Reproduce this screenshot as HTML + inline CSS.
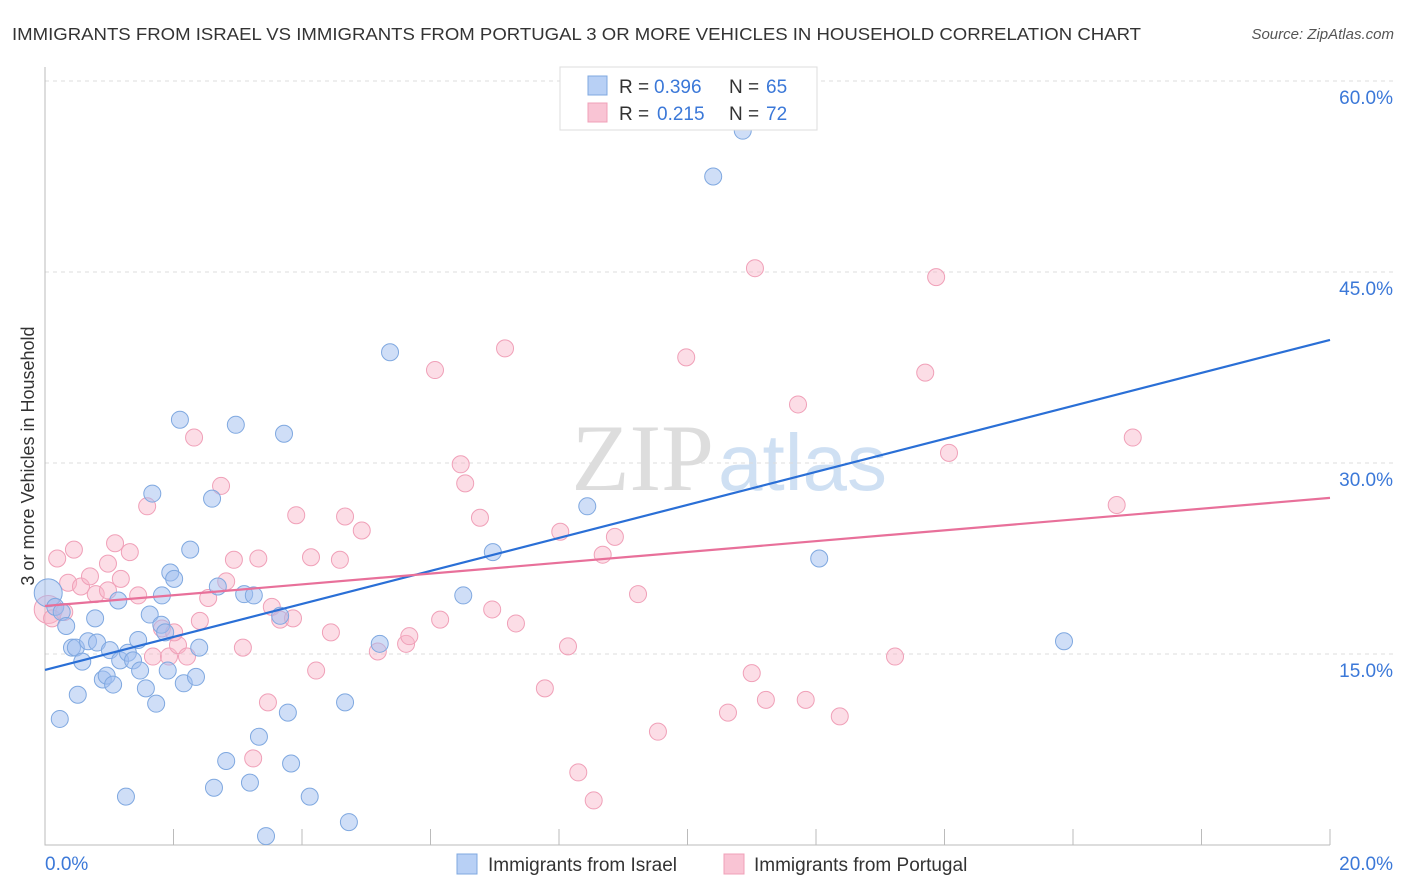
<!DOCTYPE html>
<html><head><meta charset="utf-8">
<style>
body{margin:0;background:#fff;font-family:"Liberation Sans",sans-serif;}
svg{display:block}
</style></head>
<body>
<svg id="chart" width="1406" height="892">
<text x="12" y="40" font-size="17.5" fill="#333" textLength="1129" lengthAdjust="spacingAndGlyphs">IMMIGRANTS FROM ISRAEL VS IMMIGRANTS FROM PORTUGAL 3 OR MORE VEHICLES IN HOUSEHOLD CORRELATION CHART</text>
<text x="1394" y="39" font-size="15" fill="#555" font-style="italic" text-anchor="end">Source: ZipAtlas.com</text>
<g>
<text x="714" y="490" font-size="95" fill="#ddd" text-anchor="end" font-family="Liberation Serif,serif">ZIP</text>
<text x="718" y="490" font-size="80" fill="#cfe0f3">atlas</text>
</g>
<g id="grid"></g><g id="axes"></g><g id="lines"></g><g id="pts"></g>
<g>
<rect x="560" y="67" width="257" height="63" fill="#fff" stroke="#ddd"/>
<rect x="588" y="76" width="19" height="19" fill="#b8d0f5" stroke="#7fa8e0"/>
<rect x="588" y="103" width="19" height="19" fill="#f9c4d4" stroke="#f0a0b8"/>
<text x="619" y="93" font-size="19" fill="#333">R =</text>
<text x="654" y="93" font-size="19" fill="#3b78d8">0.396</text>
<text x="729" y="93" font-size="19" fill="#333">N =</text>
<text x="766" y="93" font-size="19" fill="#3b78d8">65</text>
<text x="619" y="120" font-size="19" fill="#333">R =</text>
<text x="657" y="120" font-size="19" fill="#3b78d8">0.215</text>
<text x="729" y="120" font-size="19" fill="#333">N =</text>
<text x="766" y="120" font-size="19" fill="#3b78d8">72</text>
</g>
<g>
<rect x="457" y="854" width="20" height="20" fill="#b8d0f5" stroke="#7fa8e0"/>
<text x="488" y="871" font-size="19" fill="#333">Immigrants from Israel</text>
<rect x="724" y="854" width="20" height="20" fill="#f9c4d4" stroke="#f0a0b8"/>
<text x="754" y="871" font-size="19" fill="#333">Immigrants from Portugal</text>
</g>
<text transform="translate(34,456) rotate(-90)" font-size="18" fill="#333" text-anchor="middle">3 or more Vehicles in Household</text>
</svg>
<script>
const yTicks=[15,30,45,60];
const yTickLabels=["15.0%","30.0%","45.0%","60.0%"];
const xTicks=[0,2,4,6,8,10,12,14,16,18,20];
const israelX=[.05,.16,.26,.33,.42,.48,.58,.51,.23,.67,.78,.81,.90,.96,1.06,1.01,1.14,1.17,1.29,1.37,1.45,1.48,1.57,1.63,1.67,1.73,1.81,1.82,1.95,2.01,1.91,2.10,2.16,2.26,2.35,2.40,2.60,2.69,2.82,2.63,2.97,3.10,3.19,3.25,3.33,3.44,3.66,3.72,3.78,3.83,4.12,4.67,4.73,5.21,5.37,6.51,6.97,8.44,10.40,10.86,12.05,15.86,1.26,1.87];
const israelY=[19.8,18.7,18.3,17.2,15.5,15.5,14.4,11.8,9.9,16.0,17.8,15.9,13.0,13.3,12.6,15.3,19.2,14.5,15.1,14.5,16.1,13.7,12.3,18.1,27.6,11.1,17.3,19.6,21.4,20.9,13.7,33.4,12.7,23.2,13.2,15.5,27.2,20.3,6.6,4.5,33.0,19.7,4.9,19.6,8.5,0.7,18.0,32.3,10.4,6.4,3.8,11.2,1.8,15.8,38.7,19.6,23.0,26.6,52.5,56.1,22.5,16.0,3.8,16.7];
const portugalX=[.05,.11,.19,.30,.36,.45,.56,.70,.79,.98,1.09,1.18,1.32,1.45,1.59,1.68,1.82,1.93,2.07,2.21,2.32,2.41,2.54,2.74,2.82,2.94,3.08,3.24,3.32,3.47,3.53,3.66,3.86,3.91,4.14,4.22,4.45,4.59,4.67,4.93,5.18,5.62,5.67,6.07,6.15,6.47,6.54,6.77,6.96,7.16,7.33,7.78,8.02,8.14,8.30,8.54,8.68,8.87,9.23,9.54,9.98,10.63,11.00,11.05,11.22,11.72,11.84,12.37,13.23,13.70,13.87,14.07,16.68,16.93,2.01,0.98];
const portugalY=[18.5,17.8,22.5,18.3,20.6,23.2,20.3,21.1,19.7,22.1,23.7,20.9,23.0,19.6,26.6,14.8,17.0,14.8,15.7,14.8,32.0,17.6,19.4,28.2,20.7,22.4,15.5,6.8,22.5,11.2,18.7,17.7,17.8,25.9,22.6,13.7,16.7,22.4,25.8,24.7,15.2,15.8,16.4,37.3,17.7,29.9,28.4,25.7,18.5,39.0,17.4,12.3,24.6,15.6,5.7,3.5,22.8,24.2,19.7,8.9,38.3,10.4,13.5,45.3,11.4,34.6,11.4,10.1,14.8,37.1,44.6,30.8,26.7,32.0,16.7,20.0];
const israelTrend=[13.75,39.67];
const portugalTrend=[18.77,27.26];
const NS='http://www.w3.org/2000/svg';
const sx=v=>45+v*64.25, sy=v=>845-v*12.733;
function mk(t,a,p){const e=document.createElementNS(NS,t);for(const k in a)e.setAttribute(k,a[k]);p.appendChild(e);return e;}
const grid=document.getElementById('grid'),axes=document.getElementById('axes'),lines=document.getElementById('lines'),pts=document.getElementById('pts');
yTicks.forEach((v,i)=>{
 const l=mk('line',{x1:45,x2:1394,y1:sy(v),y2:sy(v),stroke:'#ddd','stroke-dasharray':'4,4'},grid);
 
 
 const t=mk('text',{x:1393,y:sy(v)+23,'font-size':19,fill:'#3b78d8','text-anchor':'end'},axes);
 t.textContent=yTickLabels[i];
 
 
});
const ax=mk('path',{d:'M45,67 V845 H1330',stroke:'#bbb',fill:'none'},axes);


xTicks.forEach(v=>{const t=mk('line',{x1:sx(v),x2:sx(v),y1:829,y2:845,stroke:'#bbb'},axes);
 
 });
const xl0=mk('text',{x:45,y:870,'font-size':19,fill:'#3b78d8'},axes);xl0.textContent='0.0%';


const xl1=mk('text',{x:1393,y:870,'font-size':19,fill:'#3b78d8','text-anchor':'end'},axes);xl1.textContent='20.0%';


function series(X,Y,fill,stroke,name){
 X.forEach((x,i)=>{const c=mk('circle',{cx:sx(x),cy:sy(Y[i]),r:i==0?14:8.5,fill:fill,stroke:stroke,'stroke-width':1},pts);
 
 });
}
series(portugalX,portugalY,'rgba(248,180,200,0.45)','#f0a0b8','portugal');
series(israelX,israelY,'rgba(160,190,240,0.5)','#7fa8e0','israel');
const tl1=mk('line',{x1:sx(0),y1:sy(israelTrend[0]),x2:sx(20),y2:sy(israelTrend[1]),stroke:'#2a6fd6','stroke-width':2.2},lines);


const tl2=mk('line',{x1:sx(0),y1:sy(portugalTrend[0]),x2:sx(20),y2:sy(portugalTrend[1]),stroke:'#e8709a','stroke-width':2.2},lines);


pts.parentNode.appendChild(lines);
</script>
</body></html>
